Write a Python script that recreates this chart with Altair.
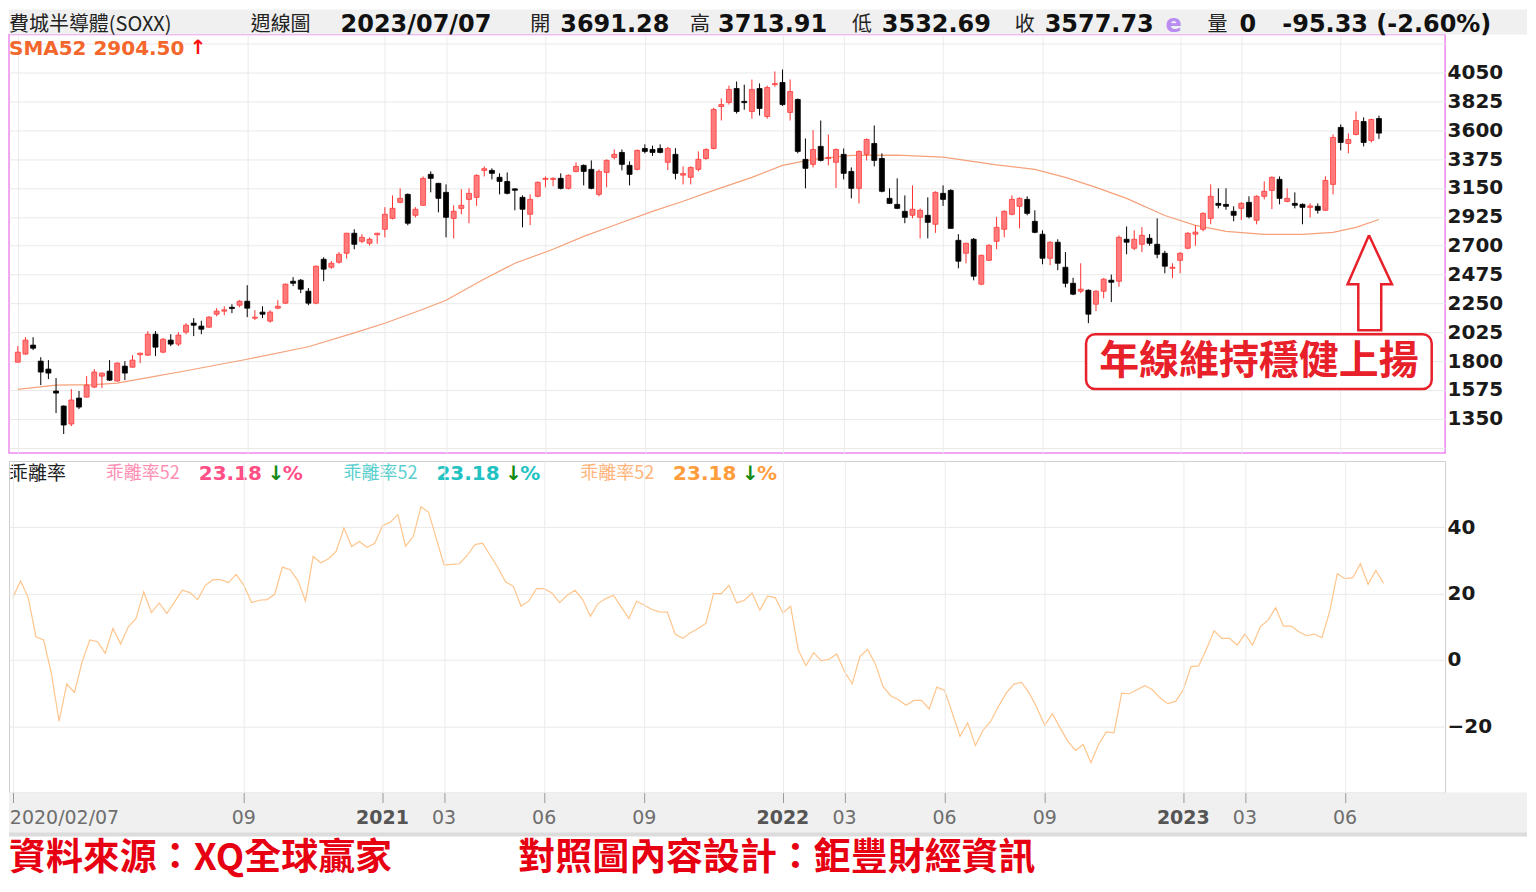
import altair as alt
import pandas as pd

# ---------------- data ----------------
idx = list(range(179))  # weekly bars, 2020/02/07 .. 2023/07/07

opens = [1792,1855,1925,1800,1738,1567,1450,1310,1512,1520,
         1598,1683,1722,1645,1761,1753,1850,1847,2010,1870,
         1964,1933,2026,2096,2073,2065,2166,2190,2220,2236,
         2267,2135,2182,2112,2213,2252,2423,2431,2345,2252,
         2594,2532,2571,2641,2797,2734,2719,2785,2828,2913,
         3038,3100,2937,3015,3256,3186,3116,2913,2991,3061,
         3077,3287,3287,3233,3201,3143,3077,2945,3085,3217,
         3217,3225,3147,3279,3326,3295,3100,3271,3388,3427,
         3326,3295,3458,3450,3458,3350,3412,3250,3233,3295,
         3380,3458,3785,3816,3925,3825,3746,3925,3707,3955,
         3972,3739,3840,3373,3334,3474,3380,3350,3412,3279,
         3147,3412,3497,3380,3069,3022,2968,2937,2921,2937,
         2867,3108,3131,2742,2641,2750,2400,2586,2734,2828,
         2945,3007,3061,2890,2789,2602,2727,2532,2407,2345,
         2353,2244,2345,2431,2423,2750,2680,2711,2758,2711,
         2641,2524,2586,2680,2790,2828,2913,3030,3022,2968,
         2991,3038,2898,3085,3131,3217,3045,3030,3022,2999,
         3007,2976,3178,3622,3497,3567,3668,3520,3691.28]
highs = [1917,1987,1987,1831,1808,1668,1455,1582,1567,1683,
         1738,1710,1808,1790,1800,1847,1866,2034,2034,1980,
         2010,2026,2096,2135,2115,2150,2213,2228,2244,2275,
         2392,2197,2228,2197,2275,2405,2455,2440,2370,2545,
         2610,2580,2650,2800,2828,2790,2765,2800,3000,3092,
         3147,3108,3000,3240,3279,3190,3178,3015,3140,3147,
         3256,3318,3303,3264,3271,3147,3092,3100,3201,3240,
         3233,3264,3256,3350,3334,3365,3295,3373,3450,3450,
         3357,3450,3490,3480,3490,3470,3460,3318,3318,3435,
         3460,3775,3848,3948,3980,3955,3995,3965,3948,4058,
         4073,3996,3848,3536,3600,3676,3567,3458,3458,3310,
         3443,3536,3637,3420,3147,3225,3092,3170,2990,3077,
         3124,3170,3140,2790,2722,2760,2630,2711,2925,2976,
         3092,3077,3085,2976,2820,2734,2750,2650,2450,2563,
         2360,2353,2447,2475,2780,2850,2820,2845,2790,2913,
         2660,2563,2650,2805,2860,2960,3178,3147,3147,3007,
         3040,3085,3092,3201,3240,3240,3147,3116,3030,3030,
         3030,3240,3567,3645,3575,3746,3700,3690,3713.91]
lows = [1790,1850,1886,1613,1660,1395,1232,1294,1426,1515,
        1590,1590,1645,1640,1652,1750,1785,1840,1839,1862,
        1917,1917,2010,1995,2010,2060,2150,2158,2174,2220,
        2143,2120,2135,2100,2205,2245,2385,2330,2236,2244,
        2423,2520,2560,2600,2672,2720,2700,2715,2765,2905,
        3030,2859,2920,3010,3116,2960,2765,2757,2945,2875,
        3010,3240,3217,3100,3100,2976,2843,2860,3077,3155,
        3163,3139,3139,3271,3170,3140,3085,3155,3373,3287,
        3170,3287,3420,3400,3420,3290,3217,3178,3178,3280,
        3370,3450,3676,3800,3730,3760,3690,3715,3690,3940,
        3790,3676,3420,3147,3310,3357,3326,3150,3217,3069,
        3030,3365,3318,3116,3025,2985,2875,2913,2757,2757,
        2800,3010,2835,2524,2563,2430,2392,2580,2672,2765,
        2937,2835,2937,2797,2555,2548,2509,2375,2314,2330,
        2096,2190,2290,2260,2380,2633,2665,2650,2700,2602,
        2485,2447,2485,2672,2700,2812,2867,2991,2980,2890,
        2900,2913,2867,3061,2985,3022,3038,2991,2867,2920,
        2950,2970,3100,3443,3420,3560,3474,3505,3532.69]
closes = [1870,1964,1901,1715,1707,1551,1302,1497,1442,1613,
          1715,1707,1652,1785,1707,1808,1862,2010,1909,1971,
          1933,2003,2080,2080,2049,2143,2190,2200,2210,2267,
          2213,2143,2166,2182,2228,2400,2407,2361,2252,2540,
          2517,2563,2633,2797,2711,2765,2750,2797,2945,2991,
          3069,2875,2984,3225,3225,3069,2921,2968,3015,3108,
          3248,3300,3264,3201,3108,3132,2984,3061,3194,3225,
          3225,3147,3248,3318,3279,3147,3279,3365,3412,3334,
          3256,3443,3435,3427,3427,3458,3264,3262,3310,3373,
          3450,3762,3800,3918,3746,3815,3918,3770,3933,3964,
          3800,3902,3435,3303,3450,3365,3388,3450,3264,3147,
          3435,3528,3365,3124,3030,2991,2921,2984,2976,2882,
          3116,3061,2835,2579,2719,2462,2625,2703,2843,2968,
          3061,3069,2952,2804,2602,2727,2563,2407,2322,2361,
          2166,2345,2439,2415,2765,2727,2750,2781,2719,2633,
          2540,2532,2641,2797,2805,2952,3085,3015,3007,2937,
          3030,2925,3085,3124,3233,3069,3069,3015,2999,3010,
          2976,3209,3544,3505,3528,3676,3505,3684,3577.73]

# SMA52 line, read at these weeks
sma_idx = [0,5,10,13,17,22,30,38,44,48,53,56,61,65,70,74,78,83,87,91,96,100,
           104,109,115,121,128,133,137,141,145,150,154,158,163,168,172,175,178]
sma_val = [1580,1613,1617,1628,1672,1725,1815,1912,2020,2095,2205,2275,2440,2563,
           2672,2773,2859,2968,3046,3131,3233,3326,3373,3404,3406,3390,3330,3295,
           3233,3155,3069,2935,2859,2812,2789,2789,2804,2843,2904.5]

# 乖離率52 (%), one value per week
bias = [18.8,23.8,18.8,7,6,-4,-18.5,-7.3,-9.8,-0.5,
        6,5.5,2,9.5,4.8,10,12.5,20.5,14.3,17.2,
        14,17.5,21,20.3,18.2,22.5,24.2,24.2,23.3,25.8,
        22.5,17.3,18,18.2,19.8,28,27.2,24,17.8,31.2,
        29.3,30.5,32.8,39.8,34.2,35.7,34,35.2,40.5,41.5,
        43.8,34.3,37.2,46.2,44.5,36.5,28.7,28.8,29,31.5,
        34.8,35.2,31.5,27.8,23.5,22.2,16.2,17.8,21.5,21.5,
        20.2,17.3,19.5,21,18.2,13.2,17,18.5,19.5,16,
        12.5,17.7,16.5,15.2,14.5,14.4,7.8,6.5,8.2,9.5,
        11,20,20,22.5,17.2,18,20.2,15,19.2,18.8,
        14.2,16.2,3,-1.7,2.2,-0.3,0.2,1.8,-3.5,-7.2,
        1,3.2,-1.2,-8,-10.8,-12,-13.7,-12.2,-12.2,-14.8,
        -8.2,-9.2,-16,-23,-19,-25.8,-21.2,-18.5,-14,-10,
        -7.3,-6.8,-10,-14.5,-19.7,-16.2,-20.5,-24.5,-27.3,-25.5,
        -31,-25.5,-21.7,-22,-10,-10.2,-9,-7.8,-9,-11.5,
        -13.2,-12.5,-9,-2,-1.8,3.2,8.8,6.5,6.5,4.5,
        7.8,4.5,10,12,15.7,10.2,10.2,8.5,7.3,7.8,
        6.7,14.5,26,24.5,24.8,29,22.8,27,23.18]

# x-axis ticks (week index) and labels
tick_idx = [0,30,48,56,69,82,100,108,121,134,152,160,173]
tick_lab = ["2020/02/07","09","2021","03","06","09","2022","03","06","09","2023","03","06"]
tick_kind = ["start","month","year","month","month","month","year","month","month","month","year","month","month"]

price_ticks = [1125,1350,1575,1800,2025,2250,2475,2700,2925,3150,3375,3600,3825,4050,4275]
bias_ticks = [-20,0,20,40]

# annotation: outline arrow and callout box (data coordinates)
arrow_x = [176.7,179.7,178.3,178.3,175.3,175.3,173.9,176.7]
arrow_y = [2781,2400,2400,2041,2041,2400,2400,2781]
box_x = [139.7]; box_x2 = [184.9]; box_y = [1582]; box_y2 = [2010]
box_text = "年線維持穩健上揚"

# ---------------- frames ----------------
df = pd.DataFrame({"i": idx, "open": opens, "high": highs, "low": lows, "close": closes})
sma_df = pd.DataFrame({"i": sma_idx, "v": sma_val})
bias_df = pd.DataFrame({"i": idx, "b": bias})
ticks_df = pd.DataFrame({"i": tick_idx, "lab": tick_lab, "kind": tick_kind})
arrow_df = pd.DataFrame({"i": arrow_x, "v": arrow_y, "o": list(range(len(arrow_x)))})
box_df = pd.DataFrame({"i": box_x, "i2": box_x2, "v": box_y, "v2": box_y2})
ONE = pd.DataFrame({"k": [0]})

W, H1, H2 = 1438, 419, 332
CJK = "Noto Sans CJK TC"
NUM = "DejaVu Sans"

xs = alt.Scale(domain=[-0.5, 186.0], nice=False, zero=False)
ys1 = alt.Scale(domain=[1084, 4346], nice=False, zero=False)
ys2 = alt.Scale(domain=[-40, 60], nice=False, zero=False)

ax_x1 = alt.Axis(values=tick_idx, grid=True, gridColor="#ebebeb", labels=False,
                 ticks=False, domain=False, title=None)
ax_y1 = alt.Axis(orient="right", values=price_ticks, format="d",
                 labelExpr="(datum.value >= 1350 && datum.value <= 4050) ? datum.label : ''",
                 grid=True, gridColor="#e9e9e9", ticks=False, domain=False,
                 labelFont=NUM, labelFontWeight="bold", labelFontSize=20,
                 labelColor="#1a1a1a", labelPadding=2, title=None)
ax_x2 = alt.Axis(values=tick_idx, grid=True, gridColor="#ebebeb", labels=False,
                 ticks=True, tickSize=10, tickColor="#9a9a9a", domain=False,
                 title=None, zindex=1)
ax_y2 = alt.Axis(orient="right", values=bias_ticks, format="d", grid=True,
                 gridColor="#e9e9e9", ticks=False, domain=False, labelFont=NUM,
                 labelFontWeight="bold", labelFontSize=20, labelColor="#1a1a1a",
                 labelPadding=2, title=None)


def T(s, px, py, size, color, weight="normal", font=NUM, align="left"):
    return alt.Chart(ONE).mark_text(text=s, fontSize=size, color=color, fontWeight=weight,
                                    font=font, align=align, baseline="middle").encode(
        x=alt.value(px), y=alt.value(py))


def band(x1, x2, y1, y2, color, opacity=1.0):
    return alt.Chart(ONE).mark_rect(color=color, opacity=opacity).encode(
        x=alt.value(x1), x2=alt.value(x2), y=alt.value(y1), y2=alt.value(y2))


X1 = alt.X("i:Q", scale=xs, axis=ax_x1)
up_cond = "datum.close >= datum.open"

wicks = alt.Chart(df).mark_rule(strokeWidth=1).encode(
    x=X1, y=alt.Y("low:Q", scale=ys1, axis=ax_y1), y2="high:Q",
    color=alt.condition(up_cond, alt.value("#ff3030"), alt.value("#000000")))
bodies = alt.Chart(df).mark_bar(size=5, strokeWidth=0.8).encode(
    x=X1, y=alt.Y("open:Q", scale=ys1, axis=ax_y1), y2="close:Q",
    fill=alt.condition(up_cond, alt.value("#ff7a7a"), alt.value("#000000")),
    stroke=alt.condition(up_cond, alt.value("#ff3a3a"), alt.value("#000000")))
sma = alt.Chart(sma_df).mark_line(color="#f6a17a", strokeWidth=1.2).encode(
    x=X1, y=alt.Y("v:Q", scale=ys1, axis=ax_y1))
box = alt.Chart(box_df).mark_rect(fill="white", stroke="#e8202a", strokeWidth=2.5,
                                  cornerRadius=9).encode(
    x=X1, x2="i2:Q", y=alt.Y("v:Q", scale=ys1, axis=ax_y1), y2="v2:Q")
box_lbl = alt.Chart(box_df).mark_text(text=box_text, font=CJK, fontSize=40, fontWeight="bold",
                                      color="#e8202a", align="center", baseline="middle").encode(
    x=alt.X("xc:Q", scale=xs, axis=ax_x1), y=alt.Y("yc:Q", scale=ys1, axis=ax_y1)
).transform_calculate(xc="(datum.i + datum.i2) / 2", yc="(datum.v + datum.v2) / 2")
arrow = alt.Chart(arrow_df).mark_line(color="#e8202a", strokeWidth=2.5).encode(
    x=X1, y=alt.Y("v:Q", scale=ys1, axis=ax_y1), order="o:Q")

HY = -10
head = [
    band(0, 1520, -25, 0, "#f0f0f0"),
    T("費城半導體(SOXX)", 0, HY, 20, "#222222", font=CJK),
    T("週線圖", 242, HY, 20, "#222222", font=CJK),
    T("2023/07/07", 332, HY, 24, "#111111", "bold"),
    T("開", 522, HY, 20, "#222222", font=CJK),
    T("3691.28", 552, HY, 24, "#111111", "bold"),
    T("高", 682, HY, 20, "#222222", font=CJK),
    T("3713.91", 710, HY, 24, "#111111", "bold"),
    T("低", 844, HY, 20, "#222222", font=CJK),
    T("3532.69", 874, HY, 24, "#111111", "bold"),
    T("收", 1007, HY, 20, "#222222", font=CJK),
    T("3577.73", 1037, HY, 24, "#111111", "bold"),
    T("e", 1158, HY, 24, "#b98cf2", "bold"),
    T("量", 1200, HY, 20, "#222222", font=CJK),
    T("0", 1232, HY, 24, "#111111", "bold"),
    T("-95.33 (-2.60%)", 1275, HY, 24, "#111111", "bold"),
    T("SMA52 2904.50", 0, 14, 20, "#f4672c", "bold"),
    T("↑", 181, 13, 20, "#ff1010", "bold"),
]

upper = alt.layer(*head, sma, wicks, bodies, box, box_lbl, arrow).properties(
    width=W, height=H1, view=alt.ViewBackground(stroke="#ee88ee", strokeWidth=1.5))

# ---------------- lower panel ----------------
X2 = alt.X("i:Q", scale=xs, axis=ax_x2)
bias_line = alt.Chart(bias_df).mark_line(color="#ffc58c", strokeWidth=1.2).encode(
    x=X2, y=alt.Y("b:Q", scale=ys2, axis=ax_y2))

def tick_text(kind, weight, color, align, dx):
    return alt.Chart(ticks_df).transform_filter(alt.datum.kind == kind).mark_text(
        font=NUM, fontSize=19, fontWeight=weight, color=color, align=align, dx=dx,
        baseline="middle").encode(x=X2, y=alt.value(H2 + 25), text="lab:N")

legend = [
    T("乖離率", 0, 13, 19, "#222222", font=CJK),
    T("乖離率52", 97, 13, 18, "#ff8fb3", font=CJK),
    T("23.18", 190, 13, 20, "#ff4f86", "bold"),
    T("↓", 259, 13, 20, "#118a11", "bold"),
    T("%", 274, 13, 20, "#ff4f86", "bold"),
    T("乖離率52", 335, 13, 18, "#5ccfcf", font=CJK),
    T("23.18", 428, 13, 20, "#22c2c2", "bold"),
    T("↓", 497, 13, 20, "#118a11", "bold"),
    T("%", 512, 13, 20, "#22c2c2", "bold"),
    T("乖離率52", 572, 13, 18, "#ffb47c", font=CJK),
    T("23.18", 665, 13, 20, "#ff9c3c", "bold"),
    T("↓", 734, 13, 20, "#118a11", "bold"),
    T("%", 749, 13, 20, "#ff9c3c", "bold"),
]
foot = [
    band(0, 1520, H2, H2 + 42, "#f0f0f0"),
    band(0, 1520, H2 + 40, H2 + 44, "#dcdcdc"),
    band(0, 10, H2 + 44, H2 + 94, "white", 0.0),
    T("資料來源：XQ全球贏家", 0, H2 + 67, 37, "#e60012", "bold", CJK),
    T("對照圖內容設計：鉅豐財經資訊", 510, H2 + 67, 37, "#e60012", "bold", CJK),
]

lower = alt.layer(*foot, bias_line, *legend,
                  tick_text("start", "normal", "#6e6e6e", "left", -3),
                  tick_text("month", "normal", "#6e6e6e", "center", 0),
                  tick_text("year", "bold", "#555555", "center", 0)).properties(
    width=W, height=H2, view=alt.ViewBackground(stroke="#cfcfcf", strokeWidth=1))

chart = alt.vconcat(upper, lower, spacing=6).properties(
    padding=0, background="white")

chart.save("out.html", embed_options={"renderer": "svg", "actions": False})
